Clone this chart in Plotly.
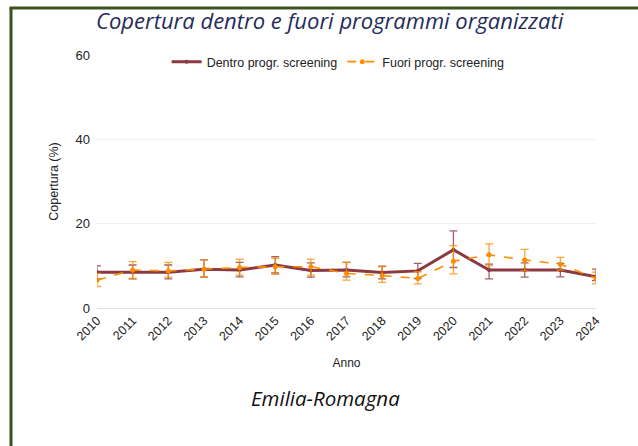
import plotly.graph_objects as go

# Years on the x axis
anni = list(range(2010, 2025))

# Coverage inside organised screening programmes (%), with 95% CI
dentro = [8.5, 8.5, 8.5, 9.2, 9.0, 10.2, 8.9, 9.0, 8.4, 8.8, 13.8, 9.0, 9.0, 9.0, 7.4]
dentro_low = [6.9, 6.9, 6.9, 7.3, 7.4, 8.3, 7.3, 7.4, 6.9, 7.0, 9.6, 6.9, 7.3, 7.4, 6.5]
dentro_high = [10.0, 10.2, 10.2, 11.4, 10.8, 12.2, 10.7, 10.8, 9.9, 10.6, 18.3, 10.4, 10.7, 10.6, 9.2]

# Coverage outside organised screening programmes (%), with 95% CI
fuori = [6.6, 9.0, 8.8, 9.2, 9.6, 9.8, 9.8, 8.2, 7.7, 7.0, 11.1, 12.6, 11.4, 10.4, 7.0]
fuori_low = [5.1, 7.0, 7.3, 7.4, 7.8, 8.0, 7.8, 6.6, 6.1, 5.7, 8.1, 10.0, 8.8, 9.0, 5.7]
fuori_high = [8.2, 11.0, 10.8, 11.4, 11.6, 11.8, 11.6, 10.8, 9.8, 8.6, 14.8, 15.2, 13.9, 12.0, 8.5]

y_ticks = [0, 20, 40, 60]

MAROON = "#8B3A42"
ORANGE = "#FF8C00"
FONT = "Liberation Sans, Arial, sans-serif"
HEAD_FONT = "Open Sans, Lato, sans-serif"


def err(vals, lo, hi):
    return dict(
        type="data",
        symmetric=False,
        array=[h - v for v, h in zip(vals, hi)],
        arrayminus=[v - l for v, l in zip(vals, lo)],
        thickness=1.3,
        width=4,
    )


fig = go.Figure()

fig.add_trace(go.Scatter(
    x=anni, y=dentro, name="Dentro progr. screening",
    mode="lines+markers",
    line=dict(color=MAROON, width=3),
    marker=dict(color=MAROON, size=4),
    error_y=dict(**err(dentro, dentro_low, dentro_high), color="rgba(139,58,66,0.8)"),
))

fig.add_trace(go.Scatter(
    x=anni, y=fuori, name="Fuori progr. screening",
    mode="lines+markers",
    line=dict(color=ORANGE, width=1.6, dash="dash"),
    marker=dict(color=ORANGE, size=5),
    error_y=dict(**err(fuori, fuori_low, fuori_high), color="rgba(255,140,0,0.8)"),
))

fig.update_layout(
    width=638, height=446,
    margin=dict(l=0, r=0, t=0, b=0, autoexpand=False),
    paper_bgcolor="white",
    plot_bgcolor="white",
    font=dict(family=FONT, size=12, color="#222"),
    showlegend=True,
    legend=dict(
        orientation="h", x=0.53, xanchor="center", y=1 - 62 / 446, yanchor="middle",
        font=dict(family=FONT, size=12.5, color="#222"),
        bgcolor="rgba(0,0,0,0)",
    ),
    xaxis=dict(
        domain=[97 / 638, 596 / 638],
        range=[2010, 2024],
        automargin=False,
        tickmode="array", tickvals=anni, ticktext=[str(a) for a in anni],
        tickangle=-45,
        showgrid=False, zeroline=False, showline=False,
        ticks="", tickfont=dict(size=12.5, color="#222"),
        ticklabelstandoff=2,
        title=dict(text="Anno", font=dict(size=12, color="#222"), standoff=16),
    ),
    yaxis=dict(
        domain=[(446 - 308) / 446, (446 - 55) / 446],
        range=[0, 60],
        automargin=False,
        tickmode="array", tickvals=y_ticks,
        showgrid=True, gridcolor="#EFEFEF", gridwidth=1,
        zeroline=True, zerolinecolor="#DDDDDD", zerolinewidth=1,
        showline=False, ticks="",
        tickfont=dict(size=13, color="#222"),
        ticklabelstandoff=6,
        title=dict(text="Copertura (%)", font=dict(size=12.5, color="#222"), standoff=14),
    ),
)

# Title and region label
fig.add_annotation(
    text="<i>Copertura dentro e fuori programmi organizzati</i>",
    xref="paper", yref="paper", x=330 / 638, y=1 - 20 / 446,
    xanchor="center", yanchor="middle", showarrow=False,
    font=dict(family=HEAD_FONT, size=22, color="#1F2D5C"),
)
fig.add_annotation(
    text="<i>Emilia-Romagna</i>",
    xref="paper", yref="paper", x=325 / 638, y=1 - 398 / 446,
    xanchor="center", yanchor="middle", showarrow=False,
    font=dict(family=HEAD_FONT, size=20.5, color="#111"),
)

# Dark green frame (top and left edges)
frame = dict(color="#3B5323", width=3)
fig.add_shape(type="line", xref="paper", yref="paper",
              x0=9.5 / 638, x1=1.0, y0=1 - 8 / 446, y1=1 - 8 / 446, line=frame)
fig.add_shape(type="line", xref="paper", yref="paper",
              x0=11 / 638, x1=11 / 638, y0=1 - 8 / 446, y1=0, line=frame)

fig.write_html("out.html")
